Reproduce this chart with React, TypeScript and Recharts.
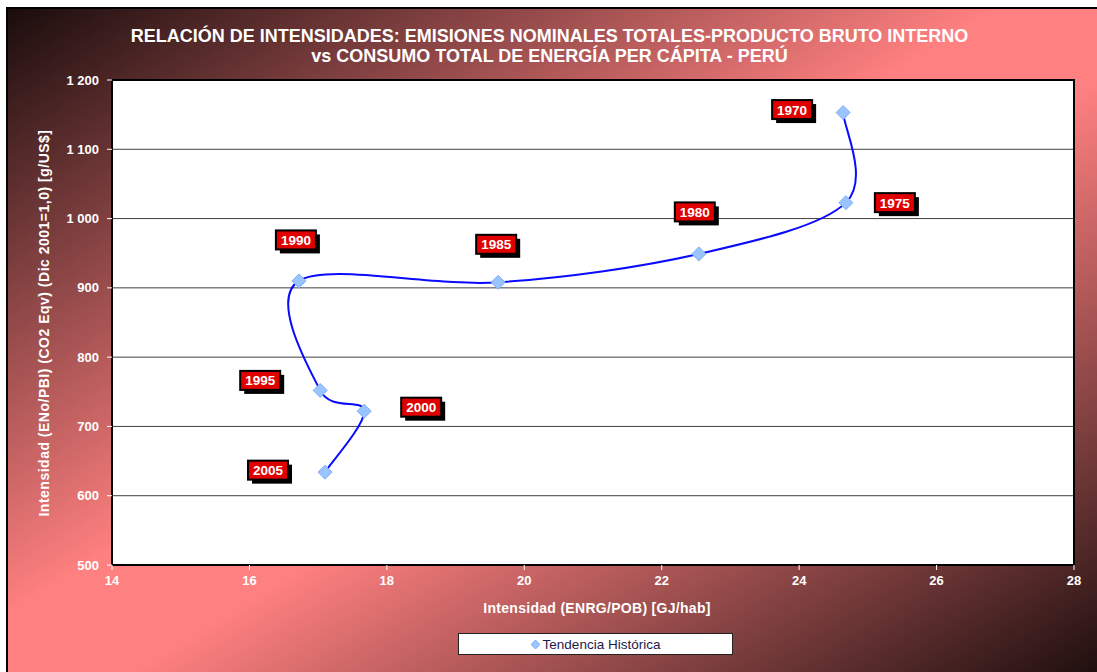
import { CartesianGrid, ReferenceArea, Scatter, ScatterChart, XAxis, YAxis } from "recharts";

const years = [1970, 1975, 1980, 1985, 1990, 1995, 2000, 2005];
const energyPerCapita = [24.64, 24.68, 22.54, 19.62, 16.72, 17.03, 17.67, 17.1];
const emissionIntensity = [1153, 1023, 949, 908, 910, 752, 722, 634];
const xTicks = [14, 16, 18, 20, 22, 24, 26, 28];
const yTicks = [500, 600, 700, 800, 900, 1000, 1100, 1200];

// where each year tag sits relative to its marker (px)
const labelOffsets: Record<number, [number, number]> = {
  1970: [-51, -3],
  1975: [49, 0],
  1980: [-4, -42],
  1985: [-2, -38],
  1990: [-3, -41],
  1995: [-60, -10],
  2000: [57, -4],
  2005: [-57, -2],
};

const data = years.map((year, i) => ({
  year,
  x: energyPerCapita[i],
  y: emissionIntensity[i],
}));

const font = "'Liberation Sans', Arial, sans-serif";

// Excel-like smoothed line (cardinal spline through the points)
function smoothCurve(context: any) {
  let pts: number[][] = [];
  return {
    areaStart() {},
    areaEnd() {},
    lineStart() {
      pts = [];
    },
    point(x: number, y: number) {
      pts.push([+x, +y]);
    },
    lineEnd() {
      if (!pts.length) return;
      context.moveTo(pts[0][0], pts[0][1]);
      const t = 1 / 6;
      for (let i = 0; i < pts.length - 1; i++) {
        const p0 = pts[Math.max(i - 1, 0)];
        const p1 = pts[i];
        const p2 = pts[i + 1];
        const p3 = pts[Math.min(i + 2, pts.length - 1)];
        context.bezierCurveTo(
          p1[0] + (p2[0] - p0[0]) * t,
          p1[1] + (p2[1] - p0[1]) * t,
          p2[0] - (p3[0] - p1[0]) * t,
          p2[1] - (p3[1] - p1[1]) * t,
          p2[0],
          p2[1],
        );
      }
    },
  };
}

function PointShape(props: any) {
  const { cx, cy, payload } = props;
  const [dx, dy] = labelOffsets[payload.year] ?? [0, -30];
  const lx = cx + dx;
  const ly = cy + dy;
  const w = 40;
  const h = 19;
  return (
    <g>
      <polygon
        points={`${cx},${cy - 7} ${cx + 7},${cy} ${cx},${cy + 7} ${cx - 7},${cy}`}
        fill="#99c4ff"
        stroke="#80aef5"
        strokeWidth={1}
      />
      <rect x={lx - w / 2 + 4} y={ly - h / 2 + 4} width={w} height={h} fill="#000" />
      <rect x={lx - w / 2} y={ly - h / 2} width={w} height={h} fill="#e00000" stroke="#000" strokeWidth={2} />
      <text
        x={lx}
        y={ly + 5}
        textAnchor="middle"
        fill="#fff"
        fontFamily={font}
        fontWeight="bold"
        fontSize={13.5}
      >
        {payload.year}
      </text>
    </g>
  );
}

function formatThousands(v: number) {
  return v >= 1000 ? `${Math.floor(v / 1000)} ${String(v % 1000).padStart(3, "0")}` : String(v);
}

export default function App() {
  return (
    <div
      style={{
        position: "absolute",
        left: 6,
        top: 7,
        width: 1098,
        height: 672,
        borderLeft: "2px solid #000",
        borderTop: "2px solid #000",
        background:
          "linear-gradient(to bottom right, #1a0c0c 0%, #ff8080 45%, #ff8080 55%, #1a0c0c 100%)",
        fontFamily: font,
      }}
    >
      <div
        style={{
          position: "absolute",
          left: 0,
          top: 17,
          width: 1083,
          textAlign: "center",
          color: "#fff",
          fontWeight: "bold",
          fontSize: 18,
          lineHeight: "20px",
        }}
      >
        RELACIÓN DE INTENSIDADES: EMISIONES NOMINALES TOTALES-PRODUCTO BRUTO INTERNO
        <br />
        vs CONSUMO TOTAL DE ENERGÍA PER CÁPITA - PERÚ
      </div>

      <div
        style={{
          position: "absolute",
          left: 36,
          top: 314,
          transform: "translate(-50%, -50%) rotate(-90deg)",
          whiteSpace: "nowrap",
          color: "#fff",
          fontWeight: "bold",
          fontSize: 14,
          letterSpacing: 0.5,
        }}
      >
        Intensidad (ENo/PBI) (CO2 Eqv) (Dic 2001=1,0) [g/US$]
      </div>

      <div
        style={{
          position: "absolute",
          left: 0,
          top: 591,
          width: 1178,
          textAlign: "center",
          color: "#fff",
          fontWeight: "bold",
          fontSize: 14,
          letterSpacing: 0.3,
        }}
      >
        Intensidad (ENRG/POB) [GJ/hab]
      </div>

      <div
        style={{
          position: "absolute",
          left: 450,
          top: 624,
          width: 273,
          height: 20,
          background: "#fff",
          border: "1px solid #222",
          display: "flex",
          alignItems: "center",
          justifyContent: "center",
          color: "#1a1a4a",
          fontSize: 13.5,
        }}
      >
        <svg width={9} height={9} style={{ marginRight: 3 }}>
          <polygon points="4.5,0 9,4.5 4.5,9 0,4.5" fill="#99c4ff" stroke="#80aef5" />
        </svg>
        Tendencia Histórica
      </div>

      <ScatterChart
        width={1088}
        height={662}
        margin={{ top: 71, right: 22, bottom: 66, left: 44 }}
        style={{ position: "absolute", left: 0, top: 0 }}
      >
        <CartesianGrid vertical={false} stroke="#404040" fill="#fff" horizontalValues={yTicks} />
        <XAxis
          type="number"
          dataKey="x"
          domain={[14, 28]}
          ticks={xTicks}
          axisLine={false}
          tickLine={{ stroke: "#fff" }}
          tickSize={5}
          tickMargin={6}
          height={40}
          tick={{ fill: "#fff", fontWeight: "bold", fontSize: 13, fontFamily: font }}
        />
        <YAxis
          type="number"
          dataKey="y"
          domain={[500, 1200]}
          ticks={yTicks}
          axisLine={false}
          tickLine={{ stroke: "#fff" }}
          tickSize={5}
          tickMargin={8}
          width={60}
          tickFormatter={formatThousands}
          tick={{ fill: "#fff", fontWeight: "bold", fontSize: 13, fontFamily: font }}
        />
        <ReferenceArea x1={14} x2={28} y1={500} y2={1200} fill="none" stroke="#000" strokeWidth={2} />
        <Scatter
          data={data}
          line={{ stroke: "#0a0aff", strokeWidth: 2 }}
          lineJointType={smoothCurve as any}
          shape={PointShape}
          isAnimationActive={false}
        />
      </ScatterChart>
    </div>
  );
}
